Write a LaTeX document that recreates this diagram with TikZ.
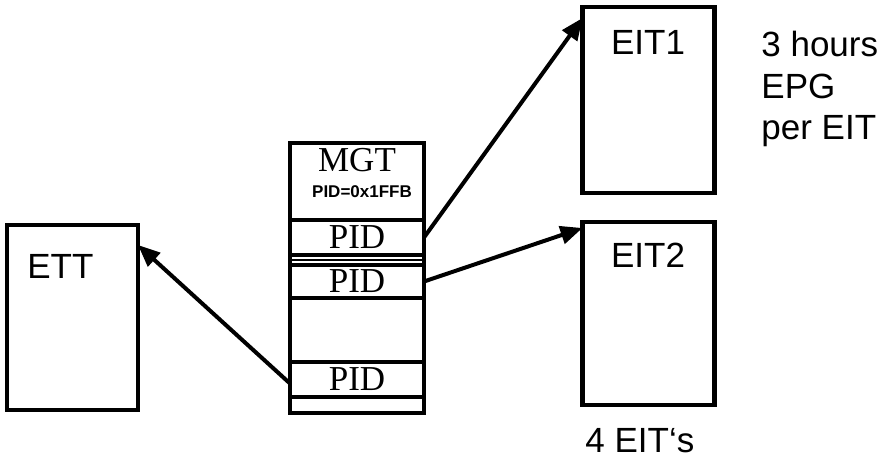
\documentclass[tikz,border=0pt]{standalone}
\usepackage{fontspec}
\newfontfamily\arialf{Liberation Sans}
\newfontfamily\timesf{Liberation Serif}
\usetikzlibrary{arrows.meta, positioning}

\begin{document}
\begin{tikzpicture}[
    x=0.5pt, y=-0.5pt,
    node distance=0pt,
    tbl/.style={draw, line width=2.2pt, minimum width=66pt, inner sep=0pt, outer sep=0pt},
    cell/.style={draw, line width=2pt, minimum width=67pt, inner sep=0pt, outer sep=0pt,
                 font=\timesf\fontsize{17.5}{20}\selectfont},
    lbl/.style={inner sep=0pt, font=\arialf\fontsize{17.5}{20.75}\selectfont},
    arr/.style={-{Triangle[length=11pt, width=9pt]}, line width=2pt},
]
\useasboundingbox (0,0) rectangle (883,458);

% tables
\node[tbl, minimum width=65.5pt, minimum height=92.5pt] (ett) at (72.5,317.5) {};
\node[tbl, minimum height=93pt] (eitA) at (648.5,100) {};
\node[tbl, minimum height=91.5pt] (eitB) at (648.5,313.5) {};

% MGT column
\node[cell, minimum height=38.5pt] (hdr) at (357,181.5) {};
\node[cell, minimum height=17.5pt, below=of hdr] (pidA) {PID};
\node[cell, minimum height=5pt, below=of pidA] (strip) {};
\node[cell, minimum height=16.5pt, below=of strip] (pidB) {PID};
\node[cell, minimum height=32pt, below=of pidB] (gap) {};
\node[cell, minimum height=17.5pt, below=of gap] (pidC) {PID};
\node[cell, minimum height=8pt, below=of pidC] (tail) {};
\draw[line width=1pt] (strip.west) -- (strip.east);

% texts
\node[inner sep=0pt, anchor=base, font=\timesf\fontsize{17.5}{20}\selectfont] (mgtname) at (357,172) {MGT};
\node[inner sep=0pt, anchor=base, font=\arialf\bfseries\fontsize{8.5}{10}\selectfont] (mgtpid) at (362,198) {PID=0x1FFB};
\node[lbl, anchor=base west] (ettname) at (27,279) {ETT};
\node[lbl, anchor=base] (eitAname) at (648,55) {EIT1};
\node[lbl, anchor=base] (eitBname) at (648,268) {EIT2};
\node[lbl, anchor=base west] (count) at (585,453) {4 EIT‘s};
\node[lbl, anchor=base west, align=left] (note) at (761,140) {3 hours\\EPG\\per EIT};

% pointers
\draw[arr] (pidA.east) -- ([yshift=-5.5pt]eitA.north west);
\draw[arr] (pidB.east) -- ([yshift=-3pt]eitB.north west);
\draw[arr] ([yshift=-2pt]pidC.west) -- ([yshift=-10pt]ett.north east);
\end{tikzpicture}
\end{document}
